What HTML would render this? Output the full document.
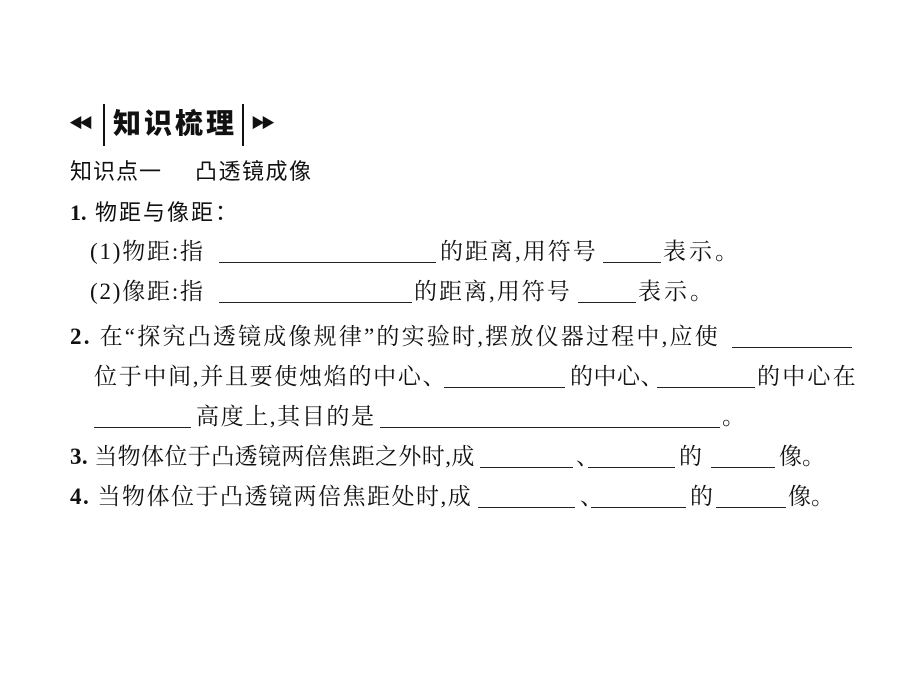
<!DOCTYPE html>
<html><head><meta charset="utf-8"><style>
body{margin:0;width:900px;height:675px;background:#fff;position:relative;overflow:hidden;font-family:"Liberation Serif","Noto Serif CJK SC",serif;color:#111}
.t{position:absolute;font-size:23px;line-height:24px;white-space:nowrap}
.s{font-family:"Liberation Sans","Noto Sans CJK SC",sans-serif}
.b{position:absolute;height:0;border-bottom:1px solid #222}
</style></head><body>
<div class="t s" style="left:69px;top:115px;font-size:14px;line-height:16px;font-weight:900;letter-spacing:-4px">&#9664;&#9664;</div>
<div style="position:absolute;left:103px;top:104px;width:2px;height:42px;background:#111"></div>
<div class="t s" style="left:113px;top:109px;font-size:28px;line-height:30px;font-weight:900;letter-spacing:3px">知识梳理</div>
<div style="position:absolute;left:242px;top:104px;width:2px;height:42px;background:#111"></div>
<div class="t s" style="left:251px;top:115px;font-size:14px;line-height:16px;font-weight:900;letter-spacing:-4px">&#9654;&#9654;</div>

<div class="t s" style="left:70px;top:160px;font-size:22px;letter-spacing:1px">知识点一</div>
<div class="t s" style="left:195px;top:160px;font-size:22px;letter-spacing:1.5px">凸透镜成像</div>
<div class="t s" style="left:70px;top:201px;font-size:22px"><b style="font-family:'Liberation Serif',serif">1.</b></div>
<div class="t s" style="left:95px;top:201px;font-size:22px;letter-spacing:2px">物距与像距：</div>

<div class="t" style="left:90px;top:240px;letter-spacing:1.8px">(1)物距:指</div>
<div class="b" style="left:219px;width:217px;top:262px"></div>
<div class="t" style="left:440px;top:240px;letter-spacing:2px">的距离,用符号</div>
<div class="b" style="left:603px;width:58px;top:262px"></div>
<div class="t" style="left:663px;top:240px;letter-spacing:3px">表示。</div>

<div class="t" style="left:90px;top:280px;letter-spacing:1.8px">(2)像距:指</div>
<div class="b" style="left:219px;width:193px;top:302px"></div>
<div class="t" style="left:414px;top:280px;letter-spacing:2px">的距离,用符号</div>
<div class="b" style="left:578px;width:58px;top:302px"></div>
<div class="t" style="left:638px;top:280px;letter-spacing:3px">表示。</div>

<div class="t" style="left:70px;top:325px;letter-spacing:2.2px"><b>2.</b> 在“探究凸透镜成像规律”的实验时,摆放仪器过程中,应使</div>
<div class="b" style="left:732px;width:120px;top:347px"></div>

<div class="t" style="left:94px;top:365px;letter-spacing:1.7px">位于中间,并且要使烛焰的中心、</div>
<div class="b" style="left:444px;width:121px;top:387px"></div>
<div class="t" style="left:570px;top:365px;letter-spacing:0.5px">的中心、</div>
<div class="b" style="left:657px;width:98px;top:387px"></div>
<div class="t" style="left:757px;top:365px;letter-spacing:2.2px">的中心在</div>

<div class="b" style="left:94px;width:97px;top:427px"></div>
<div class="t" style="left:196px;top:405px;letter-spacing:1.6px">高度上,其目的是</div>
<div class="b" style="left:380px;width:340px;top:427px"></div>
<div class="t" style="left:722px;top:405px">。</div>

<div class="t" style="left:70px;top:445px;letter-spacing:0.4px"><b>3.</b> 当物体位于凸透镜两倍焦距之外时,成</div>
<div class="b" style="left:480px;width:93px;top:467px"></div>
<div class="t" style="left:576px;top:445px">、</div>
<div class="b" style="left:588px;width:87px;top:467px"></div>
<div class="t" style="left:679px;top:445px">的</div>
<div class="b" style="left:711px;width:64px;top:467px"></div>
<div class="t" style="left:779px;top:445px">像。</div>

<div class="t" style="left:70px;top:485px;letter-spacing:1.5px"><b>4.</b> 当物体位于凸透镜两倍焦距处时,成</div>
<div class="b" style="left:478px;width:97px;top:507px"></div>
<div class="t" style="left:580px;top:485px">、</div>
<div class="b" style="left:591px;width:95px;top:507px"></div>
<div class="t" style="left:690px;top:485px">的</div>
<div class="b" style="left:716px;width:70px;top:507px"></div>
<div class="t" style="left:788px;top:485px">像。</div>
</body></html>
